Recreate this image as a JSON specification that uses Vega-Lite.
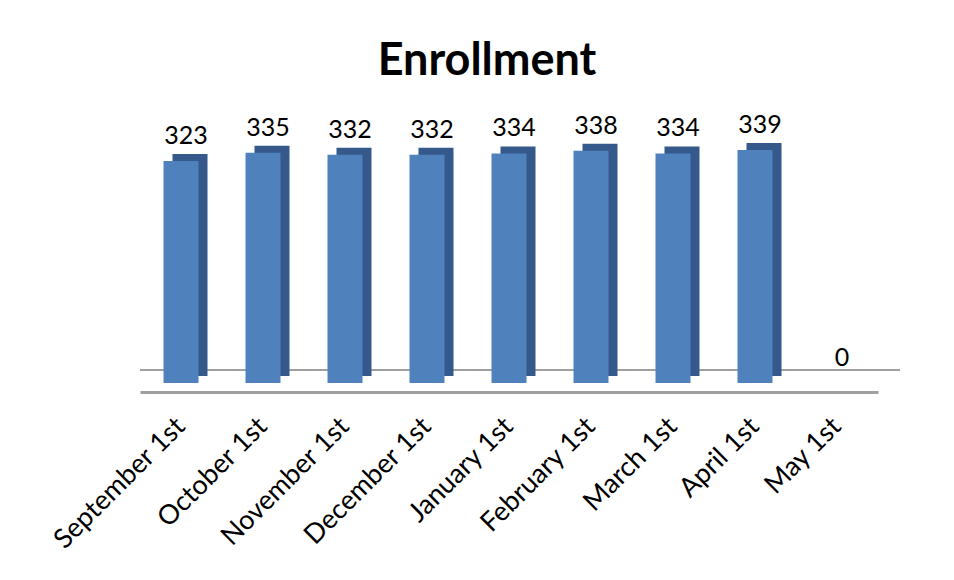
{
  "$schema": "https://vega.github.io/schema/vega-lite/v6.json",
  "autosize": "none",
  "width": 738,
  "height": 275,
  "padding": {"left": 140, "top": 108, "right": 76, "bottom": 197},
  "background": "white",
  "config": {"view": {"stroke": null}, "font": "Lato"},
  "title": {"text": "Enrollment", "fontSize": 45, "font": "Lato", "fontWeight": "bold", "color": "#000000", "anchor": "middle", "dx": -22, "offset": 24},
  "data": {"values": [
    {"month": "September 1st", "enrollment": 323},
    {"month": "October 1st", "enrollment": 335},
    {"month": "November 1st", "enrollment": 332},
    {"month": "December 1st", "enrollment": 332},
    {"month": "January 1st", "enrollment": 334},
    {"month": "February 1st", "enrollment": 338},
    {"month": "March 1st", "enrollment": 334},
    {"month": "April 1st", "enrollment": 339},
    {"month": "May 1st", "enrollment": 0}
  ]},
  "encoding": {
    "x": {"field": "month", "type": "nominal", "sort": null,
      "axis": {"title": null, "labelAngle": -45, "labelAlign": "right", "labelBaseline": "middle", "labelFontSize": 27, "labelFont": "Lato", "labelColor": "#000000", "labelPadding": 30, "ticks": false, "domainColor": "#a0a0a0", "domainWidth": 3, "offset": 9, "labelOverlap": false, "labelLimit": 300}},
    "y": {"field": "enrollment", "type": "quantitative", "scale": {"domain": [0, 400]}, "axis": null}
  },
  "layer": [
    {"mark": {"type": "rule", "color": "#a0a0a0", "strokeWidth": 2, "xOffset": 22, "yOffset": -13}, "encoding": {"x": null, "y": {"datum": 0}}},
    {"mark": {"type": "bar", "width": 35, "color": "#35598a", "xOffset": 9, "yOffset": -7}},
    {"mark": {"type": "bar", "width": 35, "color": "#4f81bd"}},
    {"mark": {"type": "text", "fontSize": 25, "font": "Lato", "color": "#000000", "baseline": "bottom", "dx": 5, "dy": -12}, "encoding": {"text": {"field": "enrollment", "type": "quantitative"}}}
  ]
}
